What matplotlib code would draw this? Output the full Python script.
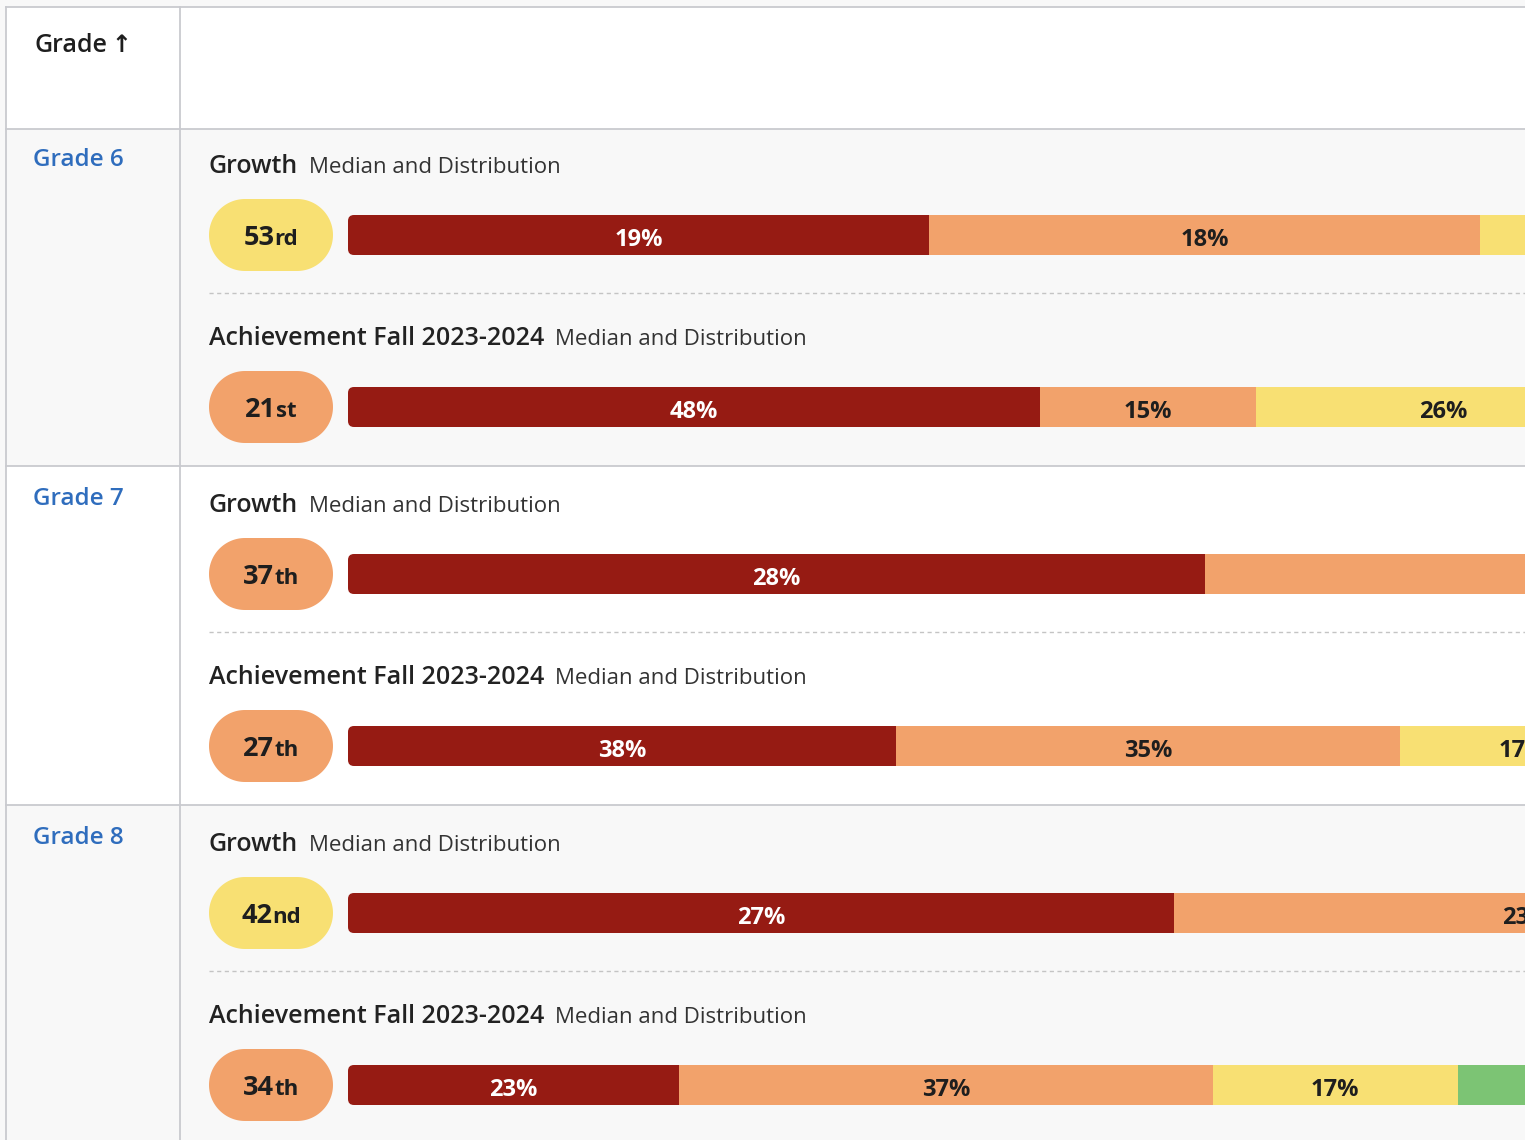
import matplotlib
matplotlib.use("Agg")
import matplotlib.pyplot as plt
from matplotlib.patches import Polygon, Rectangle, FancyBboxPatch
from matplotlib.lines import Line2D
import numpy as np

# ---------------- data ----------------
grades = ["Grade 6", "Grade 7", "Grade 8"]
growth_median = [53, 37, 42]
growth_suffix = ["rd", "th", "nd"]
ach_median = [21, 27, 34]
ach_suffix = ["st", "th", "th"]
# distributions (Low, LoAvg, Avg, HiAvg, High); values past the visible edge are estimates
growth_dist = [[19, 18, 22, 23, 18],
               [28, 30, 18, 14, 10],
               [27, 23, 20, 17, 13]]
ach_dist = [[48, 15, 26, 8, 3],
            [38, 35, 17, 7, 3],
            [23, 37, 17, 15, 8]]
growth_title = "Growth"
ach_title = "Achievement Fall 2023-2024"
subtitle = "Median and Distribution"
header = "Grade"

band_colors = ["#961b13", "#f2a26b", "#f8e073", "#7cc474", "#3d9b4c"]
label_colors = ["#ffffff", "#1e1e1e", "#1e1e1e", "#1e1e1e", "#ffffff"]

FONT = ["Open Sans", "DejaVu Sans"]
plt.rcParams["font.family"] = FONT

W, H = 1525, 1140
fig = plt.figure(figsize=(W / 100, H / 100), dpi=100)
fig.patch.set_facecolor("#f8f8f8")
main = fig.add_axes([0, 0, 1, 1])
main.set_xlim(0, W)
main.set_ylim(H, 0)
main.axis("off")
renderer = fig.canvas.get_renderer()

line_col = "#c9cacf"
row_lines = [129, 466, 805]
row_bg = ["#f8f8f8", "#ffffff", "#f8f8f8"]
content_base = [129, 468, 807]

# header row
main.add_patch(Rectangle((6, 7), W, 122, facecolor="#ffffff", edgecolor="none", zorder=0))
for i, top in enumerate(row_lines):
    bottom = row_lines[i + 1] if i + 1 < len(row_lines) else H
    main.add_patch(Rectangle((6, top), W, bottom - top, facecolor=row_bg[i],
                             edgecolor="none", zorder=0))
for y in [7] + row_lines:
    main.add_line(Line2D([6, W], [y, y], color=line_col, lw=1.3, zorder=2))
main.add_line(Line2D([6, 6], [7, H], color=line_col, lw=1.3, zorder=2))
main.add_line(Line2D([180, 180], [7, H], color=line_col, lw=1.3, zorder=2))


def px_width(t):
    return t.get_window_extent(renderer).width


th = main.text(35, 52, header, fontsize=18, fontweight="semibold", color="#1e1e1e",
               ha="left", va="baseline")
main.text(35 + px_width(th) + 3, 52, "\u2191", fontsize=17, fontweight="bold",
          color="#1e1e1e", ha="left", va="baseline", family=["DejaVu Sans"])


def title_line(x, y, bold, regular):
    t1 = main.text(x, y, bold, fontsize=18, fontweight="semibold", color="#222222",
                   ha="left", va="baseline")
    w = px_width(t1)
    main.text(x + w + 11, y, regular, fontsize=16, color="#333333",
              ha="left", va="baseline")


def stadium(x0, y0, w, h, color):
    r = h / 2
    t1 = np.linspace(np.pi / 2, 3 * np.pi / 2, 60)
    t2 = np.linspace(-np.pi / 2, np.pi / 2, 60)
    left = np.column_stack([x0 + r + r * np.cos(t1), y0 + r - r * np.sin(t1)])
    right = np.column_stack([x0 + w - r + r * np.cos(t2), y0 + r - r * np.sin(t2)])
    pts = np.vstack([left, right])
    main.add_patch(Polygon(pts, closed=True, facecolor=color, edgecolor="none", zorder=3))


def pill(cx, cy, median, suffix):
    col = band_colors[min((median - 1) // 20, 4)]
    stadium(209, cy - 36, 124, 72, col)
    t1 = main.text(0, cy + 10, str(median), fontsize=19.5, fontweight="bold",
                   color="#1e1e1e", ha="left", va="baseline", zorder=4)
    t2 = main.text(0, cy + 10, suffix, fontsize=16, fontweight="bold",
                   color="#1e1e1e", ha="left", va="baseline", zorder=4)
    w1, w2 = px_width(t1), px_width(t2)
    x0 = cx - (w1 + w2) / 2
    t1.set_x(x0)
    t2.set_x(x0 + w1)


def bar(cy, dist, px_per_pct):
    top = cy - 20
    left_px = 348
    vis = (W - left_px) / px_per_pct
    ax = fig.add_axes([left_px / W, 1 - (top + 40) / H, (W - left_px) / W, 40 / H])
    ax.set_xlim(0, vis)
    ax.set_ylim(-0.5, 0.5)
    ax.axis("off")
    ax.patch.set_alpha(0)
    clip = FancyBboxPatch((left_px, top), 3000, 40,
                          boxstyle="round,pad=0,rounding_size=6",
                          transform=main.transData, facecolor="none", edgecolor="none")
    lefts = np.concatenate([[0], np.cumsum(dist)[:-1]])
    bars = ax.barh(0, dist, left=lefts, height=1.0, color=band_colors[:len(dist)],
                   edgecolor="none")
    for b in bars:
        b.set_clip_path(clip)
    for v, l, c in zip(dist, lefts, label_colors):
        ax.text(l + v / 2, -0.05, f"{v}%", ha="center", va="center_baseline",
                fontsize=17, fontweight="bold", color=c)


for i, g in enumerate(grades):
    b = content_base[i]
    main.text(33, b + 37, g, fontsize=17.5, fontweight="semibold", color="#2f6dbd",
              ha="left", va="baseline")
    title_line(209, b + 44, growth_title, subtitle)
    pill(271, b + 106, growth_median[i], growth_suffix[i])
    bar(b + 106, growth_dist[i], 30.6)
    main.add_line(Line2D([209, W], [b + 164, b + 164], color="#c4c4c4", lw=1.0,
                         linestyle=(0, (3, 2.5)), zorder=2))
    title_line(209, b + 216, ach_title, subtitle)
    pill(271, b + 278, ach_median[i], ach_suffix[i])
    bar(b + 278, ach_dist[i], 14.41)

fig.savefig("out.png", dpi=100, facecolor=fig.get_facecolor())
